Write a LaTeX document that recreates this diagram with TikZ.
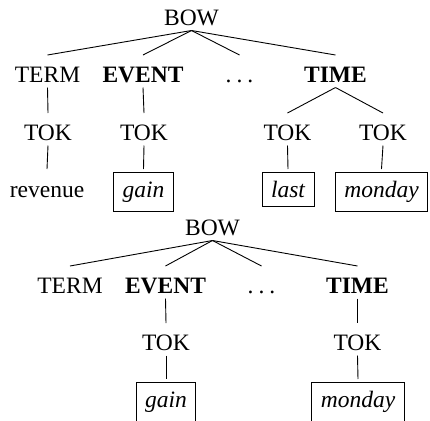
\documentclass[tikz,border=0pt]{standalone}
\usepackage{fontspec}
\setmainfont{Liberation Serif}
\newcommand{\spdots}{.\kern5bp.\kern5bp.}
\begin{document}
\begin{tikzpicture}[x=1bp,y=-1bp,line width=0.9bp,
  txt/.style={font=\fontsize{23.5bp}{28bp}\selectfont},
  lab/.style={txt, text height=27bp, text depth=5.5bp, inner ysep=0pt, inner xsep=1bp, outer sep=0pt, anchor=base},
  boldlab/.style={lab, font=\fontsize{23.5bp}{28bp}\selectfont\bfseries},
  leaf/.style={txt, text height=16bp, inner ysep=9bp, inner xsep=9bp, outer sep=3bp, anchor=base},
  boxleaf/.style={leaf, draw, font=\fontsize{23.5bp}{28bp}\selectfont\itshape}]
\useasboundingbox (0,0) rectangle (430,421);
% ---- upper tree ----
\node[lab] (bowA) at (191.5,25) {BOW};
\node[lab] (termA) at (47.5,82) {TERM};
\node[boldlab] (eventA) at (143,82) {EVENT};
\node[lab] (dotsA) at (239.5,82) {\spdots};
\node[boldlab] (timeA) at (335.5,82) {TIME};
\node[lab] (tokA1) at (48,140) {TOK};
\node[lab] (tokA2) at (144,140) {TOK};
\node[lab] (tokA3) at (287.5,140) {TOK};
\node[lab] (tokA4) at (383,140) {TOK};
\node[leaf] (revA) at (47,197) {revenue};
\node[boxleaf] (gainA) at (143.5,197) {gain};
\node[boxleaf] (lastA) at (288,197) {last};
\node[boxleaf] (mondayA) at (381.5,197) {monday};
\draw (bowA.south) -- (termA.north);
\draw (bowA.south) -- (eventA.north);
\draw (bowA.south) -- (dotsA.north);
\draw (bowA.south) -- (timeA.north);
\draw (termA.south) -- (tokA1.north);
\draw (eventA.south) -- (tokA2.north);
\draw (timeA.south) -- (tokA3.north);
\draw (timeA.south) -- (tokA4.north);
\draw (tokA1.south) -- (revA.north);
\draw (tokA2.south) -- (gainA.north);
\draw (tokA3.south) -- (lastA.north);
\draw (tokA4.south) -- (mondayA.north);
% ---- lower tree ----
\node[lab] (bowB) at (212.5,235) {BOW};
\node[lab] (termB) at (70,293) {TERM};
\node[boldlab] (eventB) at (165.5,293) {EVENT};
\node[lab] (dotsB) at (261.5,293) {\spdots};
\node[boldlab] (timeB) at (357.5,293) {TIME};
\node[lab] (tokB1) at (166,350) {TOK};
\node[lab] (tokB2) at (357.5,350) {TOK};
\node[boxleaf] (gainB) at (166,407) {gain};
\node[boxleaf] (mondayB) at (358,407) {monday};
\draw (bowB.south) -- (termB.north);
\draw (bowB.south) -- (eventB.north);
\draw (bowB.south) -- (dotsB.north);
\draw (bowB.south) -- (timeB.north);
\draw (eventB.south) -- (tokB1.north);
\draw (timeB.south) -- (tokB2.north);
\draw (tokB1.south) -- (gainB.north);
\draw (tokB2.south) -- (mondayB.north);
\end{tikzpicture}
\end{document}
